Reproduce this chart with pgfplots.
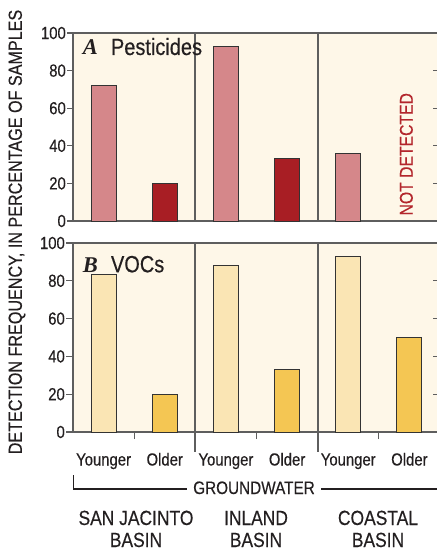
\documentclass[border=0pt]{standalone}
\usepackage{fontspec}
\setmainfont{Liberation Sans}[FakeStretch=0.85,FakeBold=0.35]
\newfontfamily\letterfont{Liberation Serif}
\usepackage{pgfplots}
\pgfplotsset{compat=1.18}

\definecolor{panelbg}{HTML}{FEF7E8}
\definecolor{pestyoung}{HTML}{D5878A}
\definecolor{pestold}{HTML}{A81E24}
\definecolor{vocyoung}{HTML}{FAE5B4}
\definecolor{vocold}{HTML}{F4C653}
\definecolor{axgray}{HTML}{5E5E5E}
\definecolor{barline}{HTML}{333333}
\definecolor{notred}{HTML}{B3262C}
\definecolor{ink}{HTML}{231F20}

\newcommand\fs[1]{\fontsize{#1bp}{#1bp}\selectfont}

\pgfplotsset{
  panel/.style={
    scale only axis,
    width=367bp,
    xmin=0,xmax=6,
    ymin=0,ymax=100,
    ytick={0,20,40,60,80,100},
    ytick pos=left,
    tick align=outside,
    major tick length=6bp,
    axis background/.style={fill=panelbg},
    axis line style={axgray,line width=1.4bp},
    tick style={axgray,line width=1.3bp},
    yticklabel style={font=\fs{17.5},text=ink,inner xsep=1bp},
    /pgf/number format/assume math mode=true,
    clip=false
  },
  bars/.style={ybar,bar shift=0pt,bar width=25bp,draw=barline,line width=0.9bp}
}

\begin{document}
\begin{tikzpicture}[text=ink]
\useasboundingbox (0,0) rectangle (437bp,-550bp);

% A: pesticides
\begin{axis}[panel,height=188bp,at={(73bp,-33bp)},anchor=north west,xtick=\empty]
\addplot[bars,fill=pestyoung] coordinates {(0.5,72.3) (2.5,92.7) (4.5,35.8)};
\addplot[bars,fill=pestold] coordinates {(1.5,20.2) (3.5,33.4)};
\pgfplotsinvokeforeach{20,40,60,80}{\draw[axgray,line width=1.3bp] (axis cs:6,#1) -- ++(-7bp,0);}
\draw[axgray,line width=1.8bp] (axis cs:2,0) -- (axis cs:2,100);
\draw[axgray,line width=1.8bp] (axis cs:4,0) -- (axis cs:4,100);
\node[anchor=base west,inner sep=0pt] at (axis cs:0.16,88.3)
  {{\letterfont\fs{22.5}\bfseries\itshape A}\hspace{13bp}\fs{23.5}Pesticides};
\node[rotate=90,text=notred,font=\fs{18.5},inner sep=0pt] at (axis cs:5.45,35.5) {NOT DETECTED};
\end{axis}

% B: VOCs
\begin{axis}[panel,height=189bp,at={(73bp,-243bp)},anchor=north west,
  xtick={1,3,5},xticklabels={},xtick pos=bottom,major tick length=7bp]
\addplot[bars,fill=vocyoung] coordinates {(0.5,83.4) (2.5,88.2) (4.5,93.0)};
\addplot[bars,fill=vocold] coordinates {(1.5,20.1) (3.5,33.2) (5.5,50.1)};
\pgfplotsinvokeforeach{20,40,60,80}{\draw[axgray,line width=1.3bp] (axis cs:6,#1) -- ++(-7bp,0);}
\draw[axgray,line width=1.8bp] (axis cs:2,100) -- (axis cs:2,0) -- ++(0,-20bp);
\draw[axgray,line width=1.8bp] (axis cs:4,100) -- (axis cs:4,0) -- ++(0,-20bp);
\node[anchor=base west,inner sep=0pt] at (axis cs:0.16,84.5)
  {{\letterfont\fs{22.5}\bfseries\itshape B}\hspace{13bp}\fs{23.5}VOCs};
\pgfplotsinvokeforeach{0.5,2.5,4.5}{\node[anchor=base,font=\fs{17.5},inner sep=0pt] at ([yshift=-33.5bp]axis cs:#1,0) {Younger};}
\pgfplotsinvokeforeach{1.5,3.5,5.5}{\node[anchor=base,font=\fs{17.5},inner sep=0pt] at ([yshift=-33.5bp]axis cs:#1,0) {Older};}
\end{axis}

% y label
\node[rotate=90,font=\fs{19},inner sep=0pt] at (17bp,-232bp)
  {DETECTION FREQUENCY, IN PERCENTAGE OF SAMPLES};

% groundwater bracket
\draw[ink,line width=1.1bp] (73.3bp,-475bp) -- (73.3bp,-489bp) -- (187bp,-489bp);
\draw[ink,line width=1.1bp] (321bp,-489bp) -- (437bp,-489bp);
\node[anchor=base,font=\fs{18},inner sep=0pt] at (254bp,-494bp) {GROUNDWATER};

% basins
\node[anchor=base,font=\fs{20.5},inner sep=0pt] at (136bp,-525bp) {SAN JACINTO};
\node[anchor=base,font=\fs{20.5},inner sep=0pt] at (136bp,-547bp) {BASIN};
\node[anchor=base,font=\fs{20.5},inner sep=0pt] at (256bp,-525bp) {INLAND};
\node[anchor=base,font=\fs{20.5},inner sep=0pt] at (256bp,-547bp) {BASIN};
\node[anchor=base,font=\fs{20.5},inner sep=0pt] at (378bp,-525bp) {COASTAL};
\node[anchor=base,font=\fs{20.5},inner sep=0pt] at (378bp,-547bp) {BASIN};
\end{tikzpicture}
\end{document}
